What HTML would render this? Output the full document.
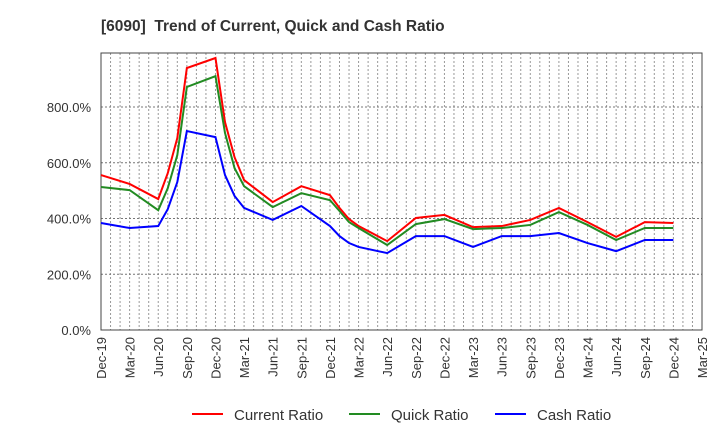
<!DOCTYPE html>
<html><head><meta charset="utf-8"><style>
body{margin:0;background:#fff;}
svg{display:block;font-family:"Liberation Sans",sans-serif;}
</style></head><body>
<svg id="c" width="720" height="440">
<text x="101" y="31" font-size="15.5" font-weight="bold" fill="#333" xml:space="preserve">[6090]  Trend of Current, Quick and Cash Ratio</text>
<g id="grid"></g><g id="axes"></g><g id="series"></g>
<g id="legend"></g>
</svg>
<script>
const months = [0,3,6,7,8,9,12,13,14,15,18,21,24,25,26,27,30,33,36,39,42,45,48,51,54,57,60];
const currentRatio = [556,524,470,563,689,940,976,746,620,538,459,516,484,438,398,373,319,402,413,369,373,395,438,387,334,387,384];
const quickRatio = [513,502,430,509,628,872,911,707,581,516,441,491,466,427,387,366,305,380,398,362,366,377,423,377,323,366,366];
const cashRatio = [384,366,373,434,531,714,692,556,481,438,395,445,373,337,312,298,276,337,337,298,337,337,348,312,283,323,323];
const tickLabels = ["Dec-19","Mar-20","Jun-20","Sep-20","Dec-20","Mar-21","Jun-21","Sep-21","Dec-21","Mar-22","Jun-22","Sep-22","Dec-22","Mar-23","Jun-23","Sep-23","Dec-23","Mar-24","Jun-24","Sep-24","Dec-24","Mar-25"];
const yTicks = [0,200,400,600,800];

const L=101,R=702,T=53,B=330,NM=63,YMAX=994;
const X=m=>L+(R-L)*m/NM;
const Y=v=>B-(B-T)*v/YMAX;
const NS="http://www.w3.org/2000/svg";
function mk(t,a,p){const e=document.createElementNS(NS,t);for(const k in a)e.setAttribute(k,a[k]);p.appendChild(e);return e;}
const g=document.getElementById('grid'),ax=document.getElementById('axes'),s=document.getElementById('series'),lg=document.getElementById('legend');
for(let m=1;m<NM;m++){const l=mk('line',{x1:X(m),x2:X(m),y1:T,y2:B,stroke:'#999','stroke-dasharray':'2,2','stroke-width':1},g);

}
yTicks.forEach(v=>{if(v>0){const l=mk('line',{x1:L,x2:R,y1:Y(v),y2:Y(v),stroke:'#777','stroke-dasharray':'2,2','stroke-width':1},g);

}
const t=mk('text',{x:L-10,y:Y(v)+5,'text-anchor':'end','font-size':13,fill:'#333'},ax);t.textContent=v.toFixed(1)+'%';

});
tickLabels.forEach((lab,i)=>{const x=X(i*3);const t=mk('text',{x:0,y:0,transform:`translate(${x+5},${B+7}) rotate(-90)`,'text-anchor':'end','font-size':13,fill:'#333'},ax);t.textContent=lab;

});
const fr=mk('rect',{x:L,y:T,width:R-L,height:B-T,fill:'none',stroke:'#444','stroke-width':1},ax);


const ser=[[currentRatio,'#ff0000','Current Ratio','current-ratio-line'],[quickRatio,'#228b22','Quick Ratio','quick-ratio-line'],[cashRatio,'#0000ff','Cash Ratio','cash-ratio-line']];
ser.forEach(([d,c,n,id])=>{const p=mk('polyline',{points:d.map((v,i)=>X(months[i])+','+Y(v)).join(' '),fill:'none',stroke:c,'stroke-width':2},s);

});
const lx=[192,349,495];
ser.forEach(([d,c,n],i)=>{const l=mk('line',{x1:lx[i],x2:lx[i]+31,y1:414,y2:414,stroke:c,'stroke-width':2},lg);


const t=mk('text',{x:lx[i]+42,y:420,'font-size':15,fill:'#333'},lg);t.textContent=n;

});
</script>
</body></html>
